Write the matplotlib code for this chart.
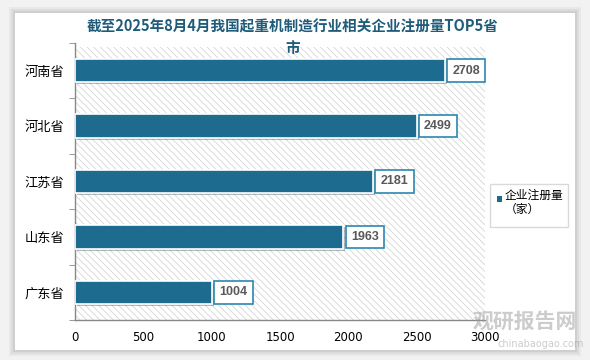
import matplotlib.pyplot as plt
from matplotlib.patches import Rectangle
import matplotlib.patheffects as pe

plt.rcParams['font.family'] = ['Noto Sans CJK SC', 'DejaVu Sans']
plt.rcParams['hatch.linewidth'] = 0.6

# data
provinces = ['河南省', '河北省', '江苏省', '山东省', '广东省']
counts = [2708, 2499, 2181, 1963, 1004]
xticks = [0, 500, 1000, 1500, 2000, 2500, 3000]
title = '截至2025年8月4月我国起重机制造行业相关企业注册量TOP5省\n市'
legend_label = '企业注册量\n（家）'

W, H = 590, 360
fig = plt.figure(figsize=(W / 100, H / 100), dpi=100)
fig.patch.set_facecolor('#f2f2f2')

# white card with soft shadow
for i, a in enumerate([0.04, 0.05, 0.06]):
    d = (3 - i) * 2
    fig.patches.append(Rectangle(((15 - d) / W, 1 - (350 + d) / H), (560 + 2 * d) / W, (337 + 2 * d) / H,
                                 transform=fig.transFigure, facecolor='black', alpha=a,
                                 edgecolor='none', zorder=-10))
fig.patches.append(Rectangle((15 / W, 1 - 350 / H), 560 / W, 337 / H, transform=fig.transFigure,
                             facecolor='white', edgecolor='none', zorder=-9))

ax = fig.add_axes([75 / W, 1 - 320 / H, 410 / W, 277 / H])
ax.set_zorder(1)
ax.set_facecolor('white')
# diagonal hatched plot background
ax.add_patch(Rectangle((0, 0), 1, 0.985, transform=ax.transAxes, facecolor='white',
                       edgecolor='#d6d6d6', linewidth=0, hatch='\\\\\\\\\\', zorder=0))

ypos = list(range(len(provinces)))
bars = ax.barh(ypos, counts, height=0.42, color='#1d6b8e', edgecolor='white', linewidth=1.2, zorder=3,
               path_effects=[pe.SimplePatchShadow(offset=(1.5, -1.5), alpha=0.3), pe.Normal()])

for y, v in zip(ypos, counts):
    ax.text(v + 55, y, str(v), ha='left', va='center', fontsize=9, fontweight='bold',
            color='#595959', zorder=5, family='Liberation Sans',
            bbox=dict(boxstyle='square,pad=0.42', facecolor='white', edgecolor='#2e86b0', linewidth=1.2))

ax.set_xlim(0, 3000)
ax.set_ylim(len(provinces) - 0.5, -0.5)
ax.set_xticks(xticks)
ax.set_xticklabels([str(t) for t in xticks], fontsize=8.5, family='DejaVu Sans')
ax.set_yticks(ypos)
ax.set_yticklabels(provinces, fontsize=9.5)
ax.set_yticks([i - 0.5 for i in range(len(provinces) + 1)], minor=True)
ax.tick_params(axis='y', which='major', length=0, pad=8)
ax.tick_params(axis='y', which='minor', length=4, color='#888888', direction='out')
ax.tick_params(axis='x', length=0, pad=8)
for s in ['top', 'right']:
    ax.spines[s].set_visible(False)
for s in ['left', 'bottom']:
    ax.spines[s].set_color('#888888')
    ax.spines[s].set_linewidth(1)

fig.text(293 / W, 1 - 18 / H, title, ha='center', va='top', fontsize=10.5, fontweight='bold',
         color='#1f5c7a', linespacing=1.45)

# legend
fig.patches.append(Rectangle((490 / W, 1 - 227 / H), 78 / W, 43 / H, transform=fig.transFigure,
                             facecolor='white', edgecolor='#d9d9d9', linewidth=1))
fig.patches.append(Rectangle((497 / W, 1 - 202 / H), 5 / W, 6 / H, transform=fig.transFigure,
                             facecolor='#1d6b8e', edgecolor='none'))
fig.text(505 / W, 1 - 189 / H, legend_label, ha='left', va='top', fontsize=8.5, color='black',
         linespacing=1.1)

# watermark
fig.text(525 / W, 1 - 321 / H, '观研报告网', ha='center', va='center', fontsize=15, fontweight='bold',
         color='#9a9a9a', alpha=0.5, zorder=5)
fig.text(541 / W, 1 - 344 / H, 'chinabaogao.com', ha='center', va='center', fontsize=7,
         color='#9a9a9a', alpha=0.5, family='DejaVu Sans', zorder=5)

fig.savefig('out.png', dpi=100, facecolor=fig.get_facecolor())
